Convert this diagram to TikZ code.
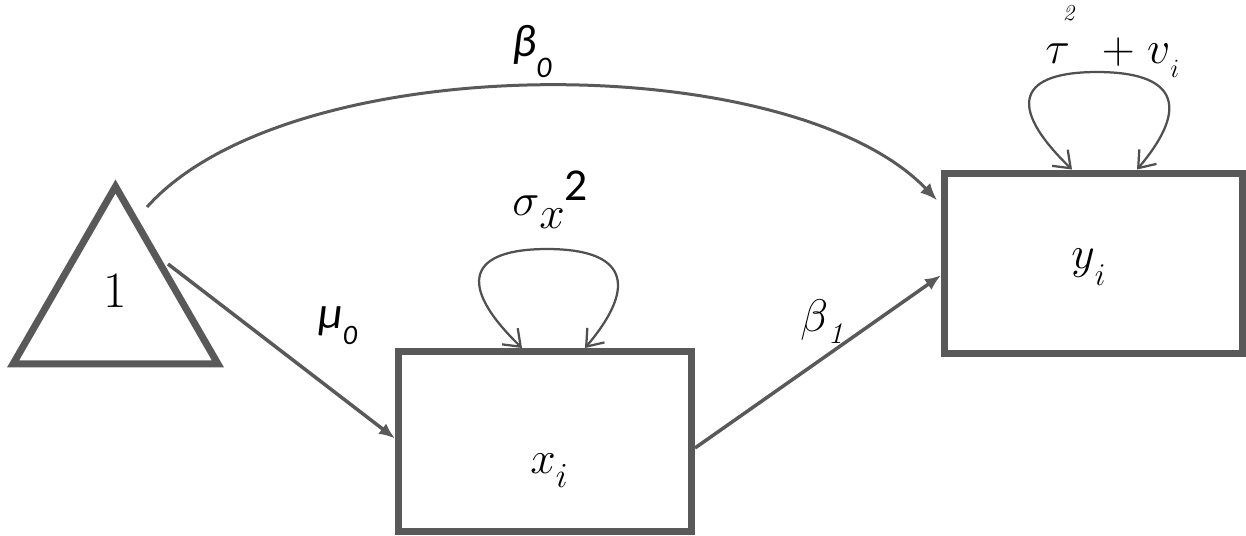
\RequirePackage{fix-cm}
\documentclass[tikz,border=0pt]{standalone}
\usepackage[no-math]{fontspec}
\newfontfamily\calib{Carlito}
\usetikzlibrary{arrows.meta,shapes.geometric}
\definecolor{edge}{HTML}{595959}
\definecolor{loopc}{HTML}{505050}
\newcommand{\fs}[1]{\fontsize{#1}{#1}\selectfont}
\begin{document}
\begin{tikzpicture}[x=0.02cm,y=-0.02cm,
  box/.style={draw=edge,line width=0.14cm,rectangle,inner sep=0pt},
  tri/.style={draw=edge,line width=0.14cm,regular polygon,regular polygon sides=3,minimum size=4.73cm,inner sep=0pt},
  conn/.style={draw=edge,line width=0.07cm,-{Latex[length=0.32cm,width=0.26cm]}},
  curvy/.style={draw=edge,line width=0.06cm,-{Latex[length=0.34cm,width=0.28cm]}},
  var/.style={draw=loopc,line width=0.045cm,{Straight Barb[length=0.3cm,width=0.45cm]}-{Straight Barb[length=0.3cm,width=0.45cm]}},
  lbl/.style={inner sep=0pt,anchor=base west,font=\fs{26}}
]
\useasboundingbox (0,0) rectangle (1246,535);

% nodes
\node[tri] (one) at (115.5,304.7) {};
\node[lbl,anchor=base,font=\fs{29}] (onetxt) at (115.5,307) {$1$};
\node[box,minimum width=5.86cm,minimum height=3.6cm] (xi) at (545,441.5) {};
\node[box,minimum width=5.96cm,minimum height=3.61cm] (yi) at (1093.5,263.25) {};

% texts
\node[lbl] (xitxt) at (530,473) {$x$\raisebox{-8.5pt}{\fs{20}$i$}};
\node[lbl] (yitxt) at (1071,268) {$y$\raisebox{-10pt}{\fs{18}$i$}};
\node[lbl] (sigtxt) at (512,215) {$\sigma$\raisebox{-7.4pt}{$x$}\raisebox{8.5pt}{\calib 2}};
\node[lbl] (b1txt) at (800,331) {$\beta$\raisebox{-7pt}{\fs{17}$\mathit{1}$}};
\node[lbl] (mutxt) at (318,328) {\calib\itshape μ\raisebox{-9.6pt}{\fs{16}\calib\itshape 0}};
\node[lbl] (b0txt) at (512,56) {\calib\itshape β\raisebox{-12pt}{\fs{17}\calib\itshape 0}};
\node[lbl] (tautxt) at (1045,63) {$\tau$\kern-4pt\raisebox{24pt}{\fs{13}$\mathit{2}$}\hspace{14pt}$+$\hspace{7pt}$v$\raisebox{-8.5pt}{\fs{15}$i$}};

% connectors
\draw[curvy] ([shift={(31.5,-97.7)}]one.center) .. controls (290,47) and (790,47) .. ([shift={(-4,-63)}]yi.west);
\draw[conn] ([shift={(52.5,-40.7)}]one.center) -- ([shift={(0,-3)}]xi.west);
\draw[conn] ([shift={(0,6.5)}]xi.east) -- ([shift={(0,12)}]yi.west);

% variance loops
\draw[var] ([shift={(-23,0)}]xi.north) .. controls +(-67,-65) and +(-77,0) .. ([shift={(2,-99)}]xi.north) .. controls +(77,0) and +(55,-65) .. ([shift={(40,0)}]xi.north);
\draw[var] ([shift={(-21.5,0)}]yi.north) .. controls +(-67,-65) and +(-77,0) .. ([shift={(3.5,-97.5)}]yi.north) .. controls +(77,0) and +(55,-65) .. ([shift={(43.5,0)}]yi.north);
\end{tikzpicture}
\end{document}
